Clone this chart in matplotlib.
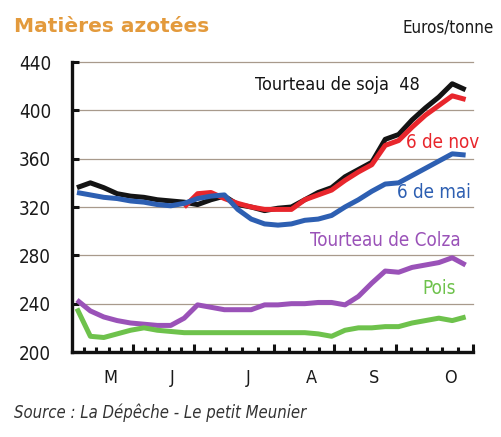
import numpy as np
import matplotlib.pyplot as plt
from matplotlib import font_manager
from matplotlib.transforms import blended_transform_factory

# prix hebdomadaires (euros/tonne), semaines de mai a octobre
semaines = np.arange(30)
soja_48 = [336, 340, 336, 331, 329, 328, 326, 325, 324, 322,
           326, 329, 322, 320, 317, 319, 320, 326, 332, 336,
           345, 351, 357, 376, 380, 392, 402, 411, 422, 417]
nov_6 = [None] * 8 + [320, 331, 332, 327, 323, 320, 318, 318, 318, 326,
                      330, 334, 342, 349, 355, 371, 375, 386, 396, 404,
                      412, 409]
mai_6 = [332, 330, 328, 327, 325, 324, 322, 321, 323, 327,
         329, 330, 318, 310, 306, 305, 306, 309, 310, 313,
         320, 326, 333, 339, 340, 346, 352, 358, 364, 363]
colza = [243, 234, 229, 226, 224, 223, 222, 222, 228, 239,
         237, 235, 235, 235, 239, 239, 240, 240, 241, 241,
         239, 246, 257, 267, 266, 270, 272, 274, 278, 272]
pois = [236, 213, 212, 215, 218, 220, 218, 217, 216, 216,
        216, 216, 216, 216, 216, 216, 216, 216, 215, 213,
        218, 220, 220, 221, 221, 224, 226, 228, 226, 229]

mois = ['M', 'J', 'J', 'A', 'S', 'O']
semaines_par_mois = [5, 5, 5, 4, 4, 5]
yticks = [200, 240, 280, 320, 360, 400, 440]

nov_6 = np.array([np.nan if v is None else v for v in nov_6], dtype=float)

# police etroite (DejaVu Sans Condensed)
etroite = font_manager.FontProperties(family='DejaVu Sans', stretch='condensed')


def fp(size, **kw):
    p = etroite.copy()
    p.set_size(size)
    for k, v in kw.items():
        getattr(p, 'set_' + k)(v)
    return p


fig = plt.figure(figsize=(5.01, 4.37), dpi=100)
ax = fig.add_axes([72 / 501, 1 - 352 / 437, 401 / 501, 290 / 437])

lw = 3.6
ax.plot(semaines, soja_48, color='#141414', lw=lw, solid_capstyle='butt', zorder=3)
ax.plot(semaines, nov_6, color='#e8262c', lw=lw, solid_capstyle='butt', zorder=4)
ax.plot(semaines, mai_6, color='#2d5fb2', lw=lw, solid_capstyle='butt', zorder=5)
ax.plot(semaines, colza, color='#9a52b8', lw=lw, solid_capstyle='butt', zorder=3)
ax.plot(semaines, pois, color='#6ec24c', lw=lw, solid_capstyle='butt', zorder=3)

x0, x1 = -0.37, 29.55
ax.set_xlim(x0, x1)
ax.set_ylim(200, 440)

# grille horizontale
for y in yticks[1:]:
    ax.axhline(y, color='#a89a8c', lw=0.9, zorder=1, clip_on=False)

# graduations : debut de mois (majeures) et semaines (mineures)
bornes = [x0, 4.2, 8.7, 14.7, 19.2, 23.8, x1]
majeures = bornes[1:]
mineures = []
for k, n in enumerate(semaines_par_mois):
    pas = (bornes[k + 1] - bornes[k]) / n
    mineures += [bornes[k] + pas * j for j in range(1, n)]
ax.set_xticks(majeures)
ax.set_xticks(mineures, minor=True)
ax.set_xticklabels([])
ax.tick_params(axis='x', which='major', direction='in', length=6, width=2.2, color='#111111')
ax.tick_params(axis='x', which='minor', direction='in', length=3.5, width=2.2, color='#111111')

centres = [2.46, 7.09, 12.76, 17.46, 22.16, 27.84]
trans = blended_transform_factory(ax.transData, ax.transAxes)
for xc, m in zip(centres, mois):
    ax.text(xc, -0.09, m, transform=trans, ha='center', va='center',
            fontproperties=fp(13), color='#1a1a1a')

ax.set_yticks(yticks)
ax.set_yticklabels([str(v) for v in yticks], fontproperties=fp(13.5), color='#1a1a1a')
ax.tick_params(axis='y', direction='in', length=5, width=2.2, pad=15, color='#111111')

for s in ['top', 'right']:
    ax.spines[s].set_visible(False)
for s in ['left', 'bottom']:
    ax.spines[s].set_linewidth(2.4)
    ax.spines[s].set_color('#111111')

# textes
fig.text(14 / 501, 1 - 27 / 437, 'Matières azotées', ha='left', va='center',
         fontsize=14.5, fontweight='bold', color='#e39a3c', family='DejaVu Sans')
fig.text(494 / 501, 1 - 27 / 437, 'Euros/tonne', ha='right', va='center',
         fontproperties=fp(12.2), color='#1a1a1a')
fig.text(420 / 501, 1 - 85 / 437, 'Tourteau de soja  48', ha='right', va='center',
         fontproperties=fp(13), color='#141414')
fig.text(479 / 501, 1 - 142 / 437, '6 de nov', ha='right', va='center',
         fontproperties=fp(13.5), color='#e8262c')
fig.text(471 / 501, 1 - 193 / 437, '6 de mai', ha='right', va='center',
         fontproperties=fp(13.5), color='#2d5fb2')
fig.text(461 / 501, 1 - 240 / 437, 'Tourteau de Colza', ha='right', va='center',
         fontproperties=fp(13.5), color='#9a52b8')
fig.text(456 / 501, 1 - 289 / 437, 'Pois', ha='right', va='center',
         fontproperties=fp(13.5), color='#6ec24c')
fig.text(14 / 501, 1 - 413 / 437, 'Source : La Dépêche - Le petit Meunier', ha='left',
         va='center', fontproperties=fp(12, style='italic'), color='#333333')

fig.savefig('out.png', dpi=100)
